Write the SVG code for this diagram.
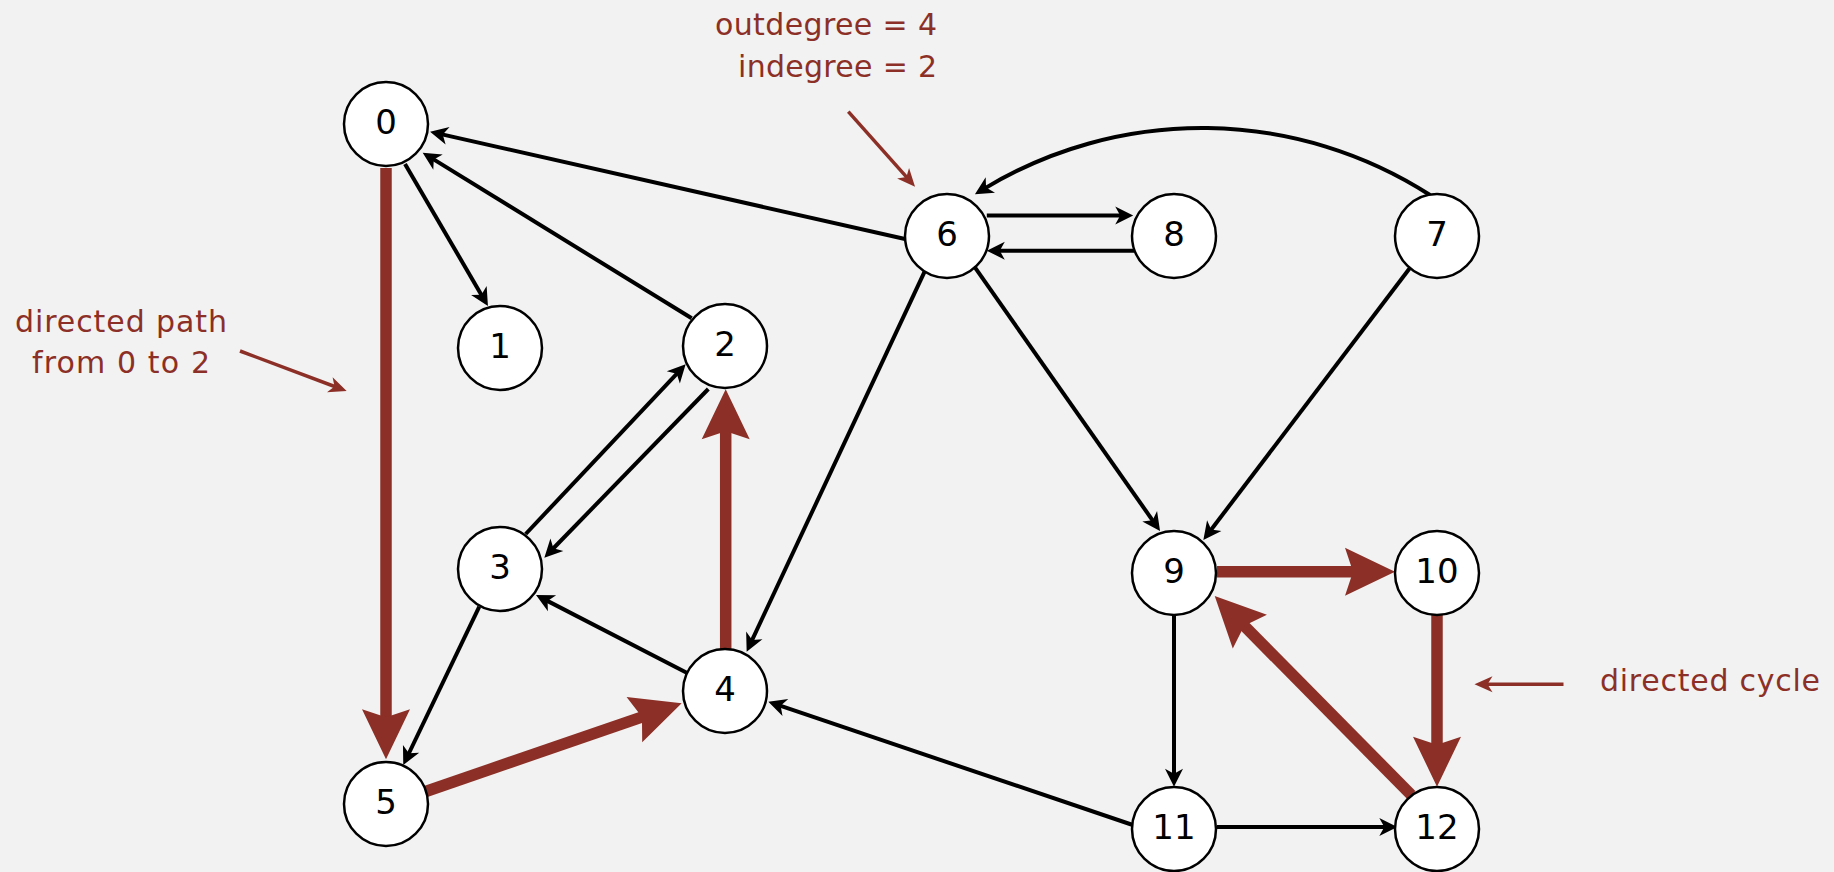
<svg xmlns="http://www.w3.org/2000/svg" width="1834" height="872" viewBox="0 0 1834 872">
<style>
.node circle{fill:#fff;stroke:#000;stroke-width:2.5}
.node text{font-family:"DejaVu Sans",sans-serif;font-size:34px;text-anchor:middle;fill:#000}
.e{stroke:#000;stroke-width:4;fill:none;marker-end:url(#ab)}
.r{stroke:#8c3027;stroke-width:11.5;fill:none;marker-end:url(#ar)}
.a{stroke:#8c3027;stroke-width:3.5;fill:none;marker-end:url(#as)}
.lbl{font-family:"DejaVu Sans",sans-serif;font-size:30px;fill:#8c3027}
</style>
<defs>
<marker id="ab" markerUnits="userSpaceOnUse" viewBox="-10 -10 22 20" refX="0" refY="0" markerWidth="22" markerHeight="20" orient="auto" overflow="visible"><path d="M-8,-9 L10,0 L-8,9 L-3,0 Z" fill="#000"/></marker>
<marker id="as" markerUnits="userSpaceOnUse" viewBox="-10 -10 22 20" refX="0" refY="0" markerWidth="22" markerHeight="20" orient="auto" overflow="visible"><path d="M-8,-8 L10,0 L-8,8 L-3,0 Z" fill="#8c3027"/></marker>
<marker id="ar" markerUnits="userSpaceOnUse" viewBox="-22 -26 54 52" refX="0" refY="0" markerWidth="54" markerHeight="52" orient="auto" overflow="visible"><path d="M-20,-24 L30,0 L-20,24 L-12,0 Z" fill="#8c3027"/></marker>
</defs>
<rect width="1834" height="872" fill="#f2f2f2"/>
<g id="edges">
<line class="e" x1="405" y1="164" x2="482.9" y2="297.4"/>
<line class="e" x1="691.7" y1="318.3" x2="431.2" y2="157.9"/>
<line class="e" x1="905" y1="239" x2="439.8" y2="133.9"/>
<line class="e" x1="525.7" y1="534" x2="678.8" y2="371.6"/>
<line class="e" x1="708.3" y1="389" x2="551.3" y2="550.5"/>
<line class="e" x1="686.7" y1="672.7" x2="544.9" y2="599.6"/>
<line class="e" x1="479.3" y1="606.7" x2="407.6" y2="756"/>
<line class="e" x1="924.6" y1="271.7" x2="750.9" y2="642.6"/>
<line class="e" x1="1132.8" y1="825" x2="777.8" y2="704.9"/>
<line class="e" x1="986.8" y1="215.5" x2="1123.2" y2="215.5"/>
<line class="e" x1="1134" y1="250.7" x2="996.8" y2="250.7"/>
<path class="e" d="M1430,195 A421.4,421.4 0 0 0 983.5,189.1"/>
<line class="e" x1="974.4" y1="266.7" x2="1154.3" y2="522.8"/>
<line class="e" x1="1409.7" y1="268.3" x2="1209.4" y2="532"/>
<line class="e" x1="1174" y1="615" x2="1174" y2="776.7"/>
<line class="e" x1="1217" y1="827" x2="1387.3" y2="827"/>
<line class="r" x1="386" y1="168" x2="386" y2="729.3"/>
<line class="r" x1="425" y1="791.7" x2="653.3" y2="713.1"/>
<line class="r" x1="725.7" y1="650" x2="725.7" y2="419.3"/>
<line class="r" x1="1217" y1="571.7" x2="1365" y2="571.7"/>
<line class="r" x1="1437" y1="615" x2="1437" y2="756.7"/>
<line class="r" x1="1411.3" y1="795" x2="1235.8" y2="617.3"/>
</g>
<g id="node0" class="node"><circle cx="386" cy="124" r="42"/><text x="386" y="133.5">0</text></g>
<g id="node1" class="node"><circle cx="500" cy="348" r="42"/><text x="500" y="357.5">1</text></g>
<g id="node2" class="node"><circle cx="725" cy="346" r="42"/><text x="725" y="355.5">2</text></g>
<g id="node3" class="node"><circle cx="500" cy="569" r="42"/><text x="500" y="578.5">3</text></g>
<g id="node4" class="node"><circle cx="725" cy="691" r="42"/><text x="725" y="700.5">4</text></g>
<g id="node5" class="node"><circle cx="386" cy="804" r="42"/><text x="386" y="813.5">5</text></g>
<g id="node6" class="node"><circle cx="947" cy="236" r="42"/><text x="947" y="245.5">6</text></g>
<g id="node7" class="node"><circle cx="1437" cy="236" r="42"/><text x="1437" y="245.5">7</text></g>
<g id="node8" class="node"><circle cx="1174" cy="236" r="42"/><text x="1174" y="245.5">8</text></g>
<g id="node9" class="node"><circle cx="1174" cy="573" r="42"/><text x="1174" y="582.5">9</text></g>
<g id="node10" class="node"><circle cx="1437" cy="573" r="42"/><text x="1437" y="582.5">10</text></g>
<g id="node11" class="node"><circle cx="1174" cy="829" r="42"/><text x="1174" y="838.5">11</text></g>
<g id="node12" class="node"><circle cx="1437" cy="829" r="42"/><text x="1437" y="838.5">12</text></g>
<g id="annotations">
<text class="lbl" x="937" y="35" text-anchor="end" textLength="222">outdegree = 4</text>
<text class="lbl" x="937" y="76.7" text-anchor="end" textLength="199">indegree = 2</text>
<line class="a" x1="848.3" y1="111.7" x2="908.4" y2="179.2"/>
<text class="lbl" x="121" y="331.7" text-anchor="middle" textLength="212">directed path</text>
<text class="lbl" x="121" y="373" text-anchor="middle" textLength="178">from 0 to 2</text>
<line class="a" x1="240" y1="351" x2="337.3" y2="387.5"/>
<text class="lbl" x="1600" y="690.7" textLength="220">directed cycle</text>
<line class="a" x1="1563.5" y1="684.3" x2="1484.5" y2="684.3"/>
</g>
</svg>
